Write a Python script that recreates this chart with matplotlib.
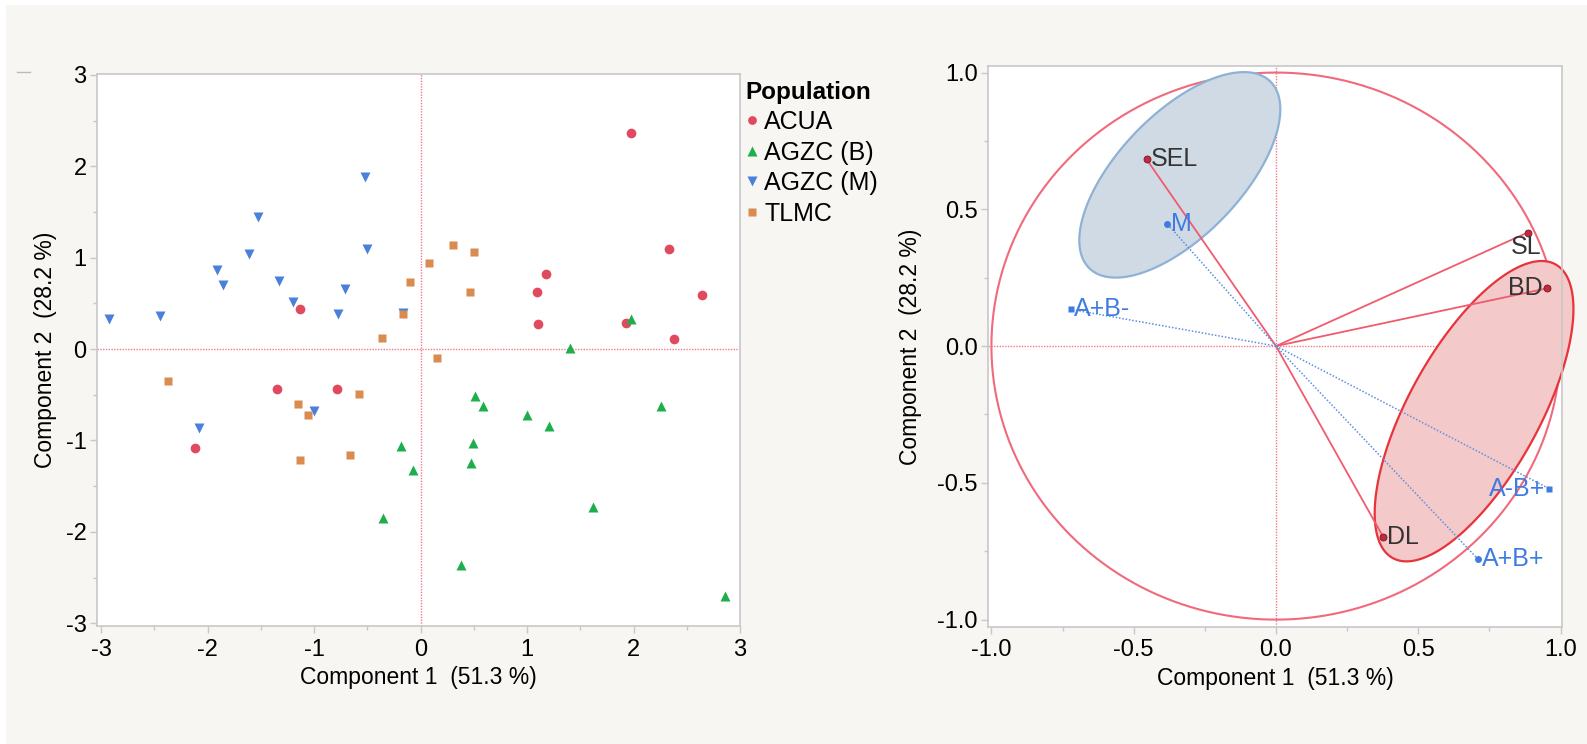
import matplotlib.pyplot as plt
import numpy as np
from matplotlib.lines import Line2D
from matplotlib.patches import Rectangle

plt.rcParams['font.family'] = ['Liberation Sans', 'DejaVu Sans']
plt.rcParams['axes.unicode_minus'] = False

# ---- score plot data (Component 1, Component 2) ----
populations = ['ACUA', 'AGZC (B)', 'AGZC (M)', 'TLMC']
acua_x = [1.98, 2.33, 1.18, 1.09, 1.10, 2.64, 1.93, 2.38, -1.13, -1.35, -0.79, -2.12]
acua_y = [2.36, 1.10, 0.82, 0.63, 0.27, 0.59, 0.28, 0.11, 0.44, -0.44, -0.44, -1.08]
agzcb_x = [1.98, 1.40, 0.51, 0.59, 1.00, 1.21, 2.26, -0.18, 0.49, 0.47, -0.07, 1.62, -0.35, 0.38, 2.86]
agzcb_y = [0.33, 0.01, -0.51, -0.62, -0.72, -0.84, -0.62, -1.06, -1.03, -1.25, -1.32, -1.73, -1.85, -2.36, -2.70]
agzcm_x = [-2.93, -2.45, -1.91, -1.86, -1.61, -1.53, -1.33, -1.20, -0.78, -0.71, -0.52, -0.50, -0.17, -2.08, -1.00]
agzcm_y = [0.33, 0.36, 0.87, 0.70, 1.04, 1.44, 0.74, 0.52, 0.38, 0.66, 1.88, 1.09, 0.40, -0.86, -0.68]
tlmc_x = [0.30, 0.50, 0.08, -0.10, 0.46, -0.17, -0.36, 0.15, -2.37, -0.58, -1.15, -1.06, -0.66, -1.13]
tlmc_y = [1.14, 1.06, 0.94, 0.73, 0.62, 0.38, 0.12, -0.10, -0.35, -0.49, -0.60, -0.72, -1.16, -1.21]

# ---- loading plot data ----
var_names = ['SEL', 'SL', 'BD', 'DL']
var_x = [-0.455, 0.884, 0.952, 0.377]
var_y = [0.683, 0.415, 0.211, -0.698]
sup_names = ['M', 'A+B-', 'A-B+', 'A+B+']
sup_x = [-0.383, -0.719, 0.961, 0.709]
sup_y = [0.448, 0.134, -0.522, -0.778]
sup_markers = ['o', 's', 's', 'o']

# ellipses: centre, semi-axes (x units), angle in degrees
blue_ell = (-0.338, 0.626, 0.457, 0.215, 46)
red_ell = (0.696, -0.238, 0.59, 0.229, 61)
aspect_fix = 284.3 / 273.3

bg = '#f7f6f2'
spine_c = '#c8c8c8'
ref_c = '#f27a8a'
red = '#e04a5e'
green = '#1fae4c'
blue = '#4a80dc'
orange = '#d98b50'
lab_blue = '#3f7be0'

fig = plt.figure(figsize=(15.87, 7.44), dpi=100, facecolor='white')
fig.patches.append(Rectangle((6 / 1587, 0), 1, 1 - 5 / 744, transform=fig.transFigure,
                             facecolor=bg, edgecolor='none', zorder=-10))
fig.add_artist(Line2D([17 / 1587, 30 / 1587], [1 - 72 / 744] * 2, color='#bbbbbb', lw=1))

ax1 = fig.add_axes([97 / 1587, 1 - 626 / 744, 643 / 1587, 552 / 744])
ax2 = fig.add_axes([988 / 1587, 1 - 627 / 744, 574 / 1587, 561 / 744])


def style_axes(ax):
    ax.set_facecolor('white')
    for s in ax.spines.values():
        s.set_color(spine_c)
        s.set_linewidth(1.2)
    ax.tick_params(which='major', direction='out', length=5, width=1, color=spine_c,
                   labelsize=17, pad=4)
    ax.tick_params(which='minor', direction='out', length=3, width=1, color=spine_c)
    ax.tick_params(axis='y', which='major', pad=2.5)
    ax.axhline(0, color=ref_c, lw=1, ls=(0, (1, 1)), zorder=1)
    ax.axvline(0, color=ref_c, lw=1, ls=(0, (1, 1)), zorder=1)


# ---- left: score plot ----
style_axes(ax1)
ms = 7
ax1.plot(acua_x, acua_y, 'o', color=red, ms=ms, mec='none', label=populations[0], zorder=3)
ax1.plot(agzcb_x, agzcb_y, '^', color=green, ms=ms + 0.5, mec='none', label=populations[1], zorder=3)
ax1.plot(agzcm_x, agzcm_y, 'v', color=blue, ms=ms + 0.5, mec='none', label=populations[2], zorder=3)
ax1.plot(tlmc_x, tlmc_y, 's', color=orange, ms=ms - 0.8, mec='none', label=populations[3], zorder=3)
ax1.set_xlim(-3.04, 3.0)
ax1.set_ylim(-3.03, 3.01)
ax1.set_xticks([-3, -2, -1, 0, 1, 2, 3])
ax1.set_yticks([-3, -2, -1, 0, 1, 2, 3])
ax1.set_xticks(np.arange(-2.5, 3, 1), minor=True)
ax1.set_yticks(np.arange(-2.5, 3, 1), minor=True)
ax1.set_xlabel('Component 1  (51.3 %)', fontsize=16.5, labelpad=4)
ax1.set_ylabel('Component 2  (28.2 %)', fontsize=16.5, labelpad=6)
leg = ax1.legend(loc='upper left', bbox_to_anchor=(0.985, 1.015), frameon=False, title='Population',
                 fontsize=18, title_fontproperties={'weight': 'bold', 'size': 17.5},
                 alignment='left', handlelength=0.5, handletextpad=0.25, labelspacing=0.26,
                 borderaxespad=0.2, markerscale=0.9)

# ---- right: loading plot ----
style_axes(ax2)
ax2.set_xlim(-1.012, 1.005)
ax2.set_ylim(-1.027, 1.024)
ax2.set_xticks([-1.0, -0.5, 0.0, 0.5, 1.0])
ax2.set_yticks([-1.0, -0.5, 0.0, 0.5, 1.0])
ax2.set_xticks([-0.75, -0.25, 0.25, 0.75], minor=True)
ax2.set_yticks([-0.75, -0.25, 0.25, 0.75], minor=True)
ax2.xaxis.set_major_formatter(plt.FormatStrFormatter('%.1f'))
ax2.yaxis.set_major_formatter(plt.FormatStrFormatter('%.1f'))
ax2.set_xlabel('Component 1  (51.3 %)', fontsize=16.5, labelpad=4)
ax2.set_ylabel('Component 2  (28.2 %)', fontsize=16.5, labelpad=11)

t = np.linspace(0, 2 * np.pi, 400)
ax2.plot(np.cos(t), np.sin(t), color='#f06a7c', lw=1.5, zorder=2, clip_on=False)


def draw_ellipse(ax, params, face, edge):
    cx, cy, a, b, ang = params
    th = np.radians(ang)
    ex = cx + a * np.cos(t) * np.cos(th) - b * np.sin(t) * np.sin(th)
    ey = cy + (a * np.cos(t) * np.sin(th) + b * np.sin(t) * np.cos(th)) * aspect_fix
    ax.fill(ex, ey, facecolor=face, edgecolor=edge, lw=1.6, zorder=2, clip_on=False)


draw_ellipse(ax2, blue_ell, '#cfdae5', '#8eb2d6')
draw_ellipse(ax2, red_ell, '#f4c9c9', '#e8333a')

for x, y in zip(var_x, var_y):
    ax2.plot([0, x], [0, y], color='#f05b6e', lw=1.3, zorder=3)
for x, y in zip(sup_x, sup_y):
    ax2.plot([0, x], [0, y], color='#5d8fe0', lw=1.1, ls=(0, (1, 1.2)), zorder=3)

ax2.plot(var_x, var_y, 'o', color='#c8283f', mec='#6b1a24', mew=0.6, ms=5, zorder=4)
for x, y, m in zip(sup_x, sup_y, sup_markers):
    ax2.plot(x, y, m, color=lab_blue, ms=5, mec='none', zorder=4)

var_off = {'SEL': (3, 0, 'left', 'center'), 'SL': (-1, -2, 'center', 'top'),
           'BD': (-3, 0, 'right', 'center'), 'DL': (3, 0, 'left', 'center')}
sup_off = {'M': (3, 0, 'left', 'center'), 'A+B-': (2, 0, 'left', 'center'),
           'A-B+': (-3, 0, 'right', 'center'), 'A+B+': (3, 0, 'left', 'center')}
for name, x, y in zip(var_names, var_x, var_y):
    dx, dy, ha, va = var_off[name]
    ax2.annotate(name, (x, y), xytext=(dx, dy), textcoords='offset points', ha=ha, va=va,
                 fontsize=18, color='#333333', zorder=5)
for name, x, y in zip(sup_names, sup_x, sup_y):
    dx, dy, ha, va = sup_off[name]
    ax2.annotate(name, (x, y), xytext=(dx, dy), textcoords='offset points', ha=ha, va=va,
                 fontsize=18, color=lab_blue, zorder=5)

fig.savefig('out.png', dpi=100, facecolor=fig.get_facecolor())
